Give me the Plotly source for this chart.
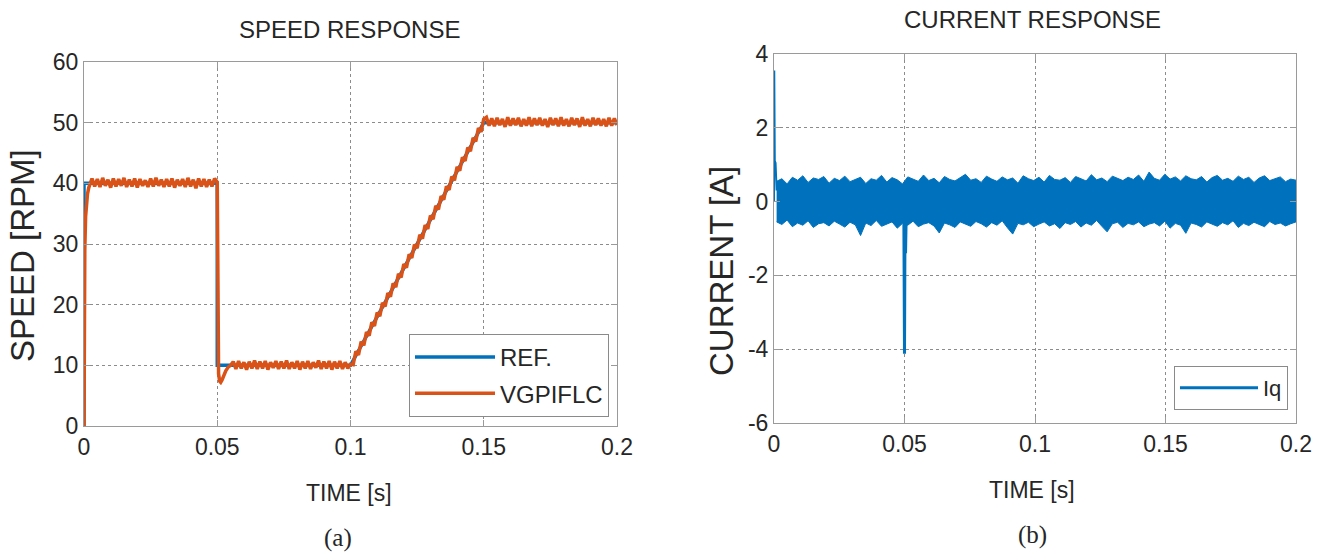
import numpy as np
import plotly.graph_objects as go

# ------------------------------------------------------------------ data
time_ticks = [0, 0.05, 0.1, 0.15, 0.2]
time_tick_text = ["0", "0.05", "0.1", "0.15", "0.2"]
speed_ticks = [0, 10, 20, 30, 40, 50, 60]
current_ticks = [-6, -4, -2, 0, 2, 4]
current_tick_text = ["-6", "-4", "-2", "0", "2", "4"]

# speed reference [RPM]
ref_t = [0, 0, 0.05, 0.05, 0.10, 0.15, 0.20]
ref_speed = [0, 40, 40, 10, 10, 50, 50]

# VGPIFLC speed response [RPM]
vg_start_t = [0, 0.0001, 0.0003, 0.0006, 0.0009, 0.0013, 0.0018, 0.0025]
vg_start = [0, 27.5, 29.0, 34.5, 37.0, 38.2, 39.3, 40.1]

vg_hold40 = [40.8, 39.5, 40.7, 39.4, 40.9, 39.6, 40.6, 39.3, 40.8, 39.5,
             40.7, 39.6, 40.9, 39.4, 40.6, 39.5, 40.8, 39.3, 40.7, 39.6,
             40.5, 39.4, 40.8, 39.5, 40.9, 39.6, 40.6, 39.4, 40.7, 39.5,
             40.8, 39.3, 40.6, 39.6, 40.7, 39.4, 40.9, 39.5, 40.6, 39.2,
             40.8, 39.5, 40.7, 39.4, 40.6, 39.5, 40.8]            # 0.003 .. 0.049

vg_drop_t = [0.0500, 0.0502, 0.0505, 0.0509, 0.0513, 0.0518, 0.0524, 0.0532, 0.0541, 0.0550]
vg_drop = [40.2, 21.0, 8.6, 7.4, 7.2, 7.6, 8.3, 9.1, 9.7, 10.0]

vg_hold10 = [10.6, 9.4, 10.7, 9.5, 10.5, 9.3, 10.6, 9.5, 10.8, 9.4,
             10.6, 9.5, 10.7, 9.3, 10.5, 9.6, 10.7, 9.4, 10.6, 9.5,
             10.8, 9.4, 10.5, 9.5, 10.7, 9.3, 10.6, 9.5, 10.7, 9.4,
             10.5, 9.6, 10.8, 9.4, 10.6, 9.5, 10.7, 9.3, 10.6, 9.5,
             10.7, 9.4, 10.5, 9.5]                                # 0.056 .. 0.099

vg_ramp = [10.2, 10.1, 12.3, 11.7, 13.9, 13.3, 15.5, 14.9, 17.1, 16.5,
           18.7, 18.1, 20.3, 19.7, 21.9, 21.3, 23.5, 22.9, 25.1, 24.5,
           26.7, 26.1, 28.3, 27.7, 29.9, 29.3, 31.5, 30.9, 33.1, 32.5,
           34.7, 34.1, 36.3, 35.7, 37.9, 37.3, 39.5, 38.9, 41.1, 40.5,
           42.7, 42.1, 44.3, 43.7, 45.9, 45.3, 47.5, 46.9, 49.1, 48.5,
           50.6]                                                  # 0.100 .. 0.150

vg_hold50 = [50.9, 49.5, 50.7, 49.4, 50.8, 49.6, 50.6, 49.3, 50.9, 49.5,
             50.7, 49.6, 50.8, 49.4, 50.6, 49.5, 50.9, 49.4, 50.7, 49.6,
             50.8, 49.5, 50.6, 49.3, 50.8, 49.6, 50.7, 49.4, 50.9, 49.5,
             50.6, 49.4, 50.8, 49.6, 50.7, 49.3, 50.9, 49.5, 50.6, 49.4,
             50.8, 49.6, 50.7, 49.5, 50.6, 49.4, 50.8, 49.5, 50.7, 49.6]  # 0.151 .. 0.200

# Iq current [A]: upper / lower envelope of the noise band (0.001 .. 0.2)
iq_upper = [0.55, 0.62, 0.48, 0.66, 0.58, 0.70, 0.52, 0.64, 0.60, 0.68,
            0.50, 0.63, 0.57, 0.69, 0.54, 0.61, 0.66, 0.49, 0.62, 0.58,
            0.71, 0.53, 0.65, 0.59, 0.48, 0.67, 0.60, 0.55, 0.72, 0.57,
            0.63, 0.51, 0.68, 0.60, 0.56, 0.66, 0.74, 0.58, 0.62, 0.52,
            0.69, 0.61, 0.55, 0.67, 0.59, 0.64, 0.50, 0.70, 0.62, 0.57,
            0.66, 0.53, 0.71, 0.60, 0.58, 0.65, 0.52, 0.68, 0.61, 0.56,
            0.73, 0.59, 0.64, 0.54, 0.69, 0.62, 0.57, 0.66, 0.60, 0.72,
            0.55, 0.80, 0.63, 0.58, 0.74, 0.61, 0.67, 0.56, 0.70, 0.62,
            0.59, 0.68, 0.53, 0.65, 0.71, 0.58, 0.63, 0.55, 0.69, 0.60,
            0.66, 0.52, 0.64, 0.70, 0.57, 0.62, 0.67, 0.54, 0.61, 0.58]
iq_lower = [-0.55, -0.62, -0.50, -0.68, -0.58, -0.64, -0.52, -0.70, -0.60, -0.57,
            -0.66, -0.53, -0.61, -0.69, -0.56, -0.63, -0.92, -0.58, -0.65, -0.51,
            -0.67, -0.60, -0.55, -0.72, -0.59, -0.64, -0.53, -0.68, -0.61, -0.57,
            -0.66, -0.85, -0.58, -0.63, -0.70, -0.55, -0.62, -0.67, -0.54, -0.60,
            -0.69, -0.57, -0.64, -0.52, -0.71, -0.88, -0.59, -0.63, -0.56, -0.68,
            -0.61, -0.55, -0.66, -0.60, -0.73, -0.57, -0.62, -0.54, -0.69, -0.58,
            -0.64, -0.51, -0.67, -0.82, -0.60, -0.56, -0.70, -0.59, -0.63, -0.55,
            -0.68, -0.61, -0.57, -0.66, -0.53, -0.72, -0.59, -0.64, -0.86, -0.58,
            -0.62, -0.69, -0.55, -0.60, -0.67, -0.57, -0.63, -0.52, -0.70, -0.59,
            -0.65, -0.56, -0.61, -0.68, -0.54, -0.62, -0.58, -0.66, -0.60, -0.55]

# Iq transients (start-up spike and step spike)
iq_start_t = [0, 0.0001, 0.0003, 0.0006, 0.0010]
iq_start = [0.0, 3.55, 1.10, 1.05, 0.30]
iq_step_t = [0.0497, 0.0500, 0.0502, 0.0504, 0.0507]
iq_step = [0.30, -4.12, -0.50, -1.40, -0.20]

# ------------------------------------------------------------------ build series
hold40_t = np.linspace(0.003, 0.049, len(vg_hold40))
hold10_t = np.linspace(0.056, 0.099, len(vg_hold10))
ramp_t = np.linspace(0.100, 0.150, len(vg_ramp))
hold50_t = np.linspace(0.151, 0.200, len(vg_hold50))
vg_t = np.concatenate([vg_start_t, hold40_t, vg_drop_t, hold10_t, ramp_t, hold50_t])
vg_speed = np.concatenate([vg_start, vg_hold40, vg_drop, vg_hold10, vg_ramp, vg_hold50])

env_t = np.linspace(0.001, 0.2, len(iq_upper))

BLUE = "#0072BD"
ORANGE = "#D95319"
W, H = 1334, 554


def px(x):
    return x / W


def py(y):
    return 1 - y / H


fig = go.Figure()

fig.add_trace(go.Scatter(x=ref_t, y=ref_speed, mode="lines", name="REF.",
                         line=dict(color=BLUE, width=3.5), xaxis="x", yaxis="y",
                         legend="legend", legendgroup="a"))
fig.add_trace(go.Scatter(x=vg_t, y=vg_speed, mode="lines", name="VGPIFLC",
                         line=dict(color=ORANGE, width=3.5), xaxis="x", yaxis="y",
                         legend="legend", legendgroup="b"))

fig.add_trace(go.Scatter(x=env_t, y=iq_upper, mode="lines", showlegend=False,
                         line=dict(color=BLUE, width=1), xaxis="x2", yaxis="y2"))
fig.add_trace(go.Scatter(x=env_t, y=iq_lower, mode="lines", showlegend=False,
                         line=dict(color=BLUE, width=1), fill="tonexty",
                         fillcolor=BLUE, xaxis="x2", yaxis="y2"))
fig.add_trace(go.Scatter(x=iq_start_t, y=iq_start, mode="lines", showlegend=False,
                         line=dict(color=BLUE, width=2), xaxis="x2", yaxis="y2"))
fig.add_trace(go.Scatter(x=iq_step_t, y=iq_step, mode="lines", name="Iq",
                         line=dict(color=BLUE, width=3), xaxis="x2", yaxis="y2",
                         legend="legend2"))

FONT = "Liberation Sans, Arial, sans-serif"
TICKFONT = dict(family=FONT, size=23, color="#262626")
FRAME = "#9a9a9a"
GRID = "#8c8c8c"

axis_common = dict(showline=True, linecolor=FRAME, linewidth=1, mirror="ticks",
                   ticks="inside", ticklen=6, tickcolor=FRAME, tickwidth=1,
                   showgrid=True, gridcolor=GRID, griddash="dot", gridwidth=1,
                   zeroline=False, tickfont=TICKFONT, fixedrange=True,
                   automargin=False)

fig.update_layout(
    width=W, height=H, margin=dict(l=0, r=0, t=0, b=0, autoexpand=False),
    paper_bgcolor="white", plot_bgcolor="white",
    xaxis=dict(domain=[px(84), px(617)], range=[0, 0.2], tickvals=time_ticks,
               ticktext=time_tick_text, anchor="y", **axis_common),
    yaxis=dict(domain=[py(426), py(62)], range=[0, 60], tickvals=speed_ticks,
               anchor="x", **axis_common),
    xaxis2=dict(domain=[px(774), px(1296)], range=[0, 0.2], tickvals=time_ticks,
                ticktext=time_tick_text, anchor="y2", **axis_common),
    yaxis2=dict(domain=[py(423), py(54)], range=[-6, 4], tickvals=current_ticks,
                ticktext=current_tick_text, anchor="x2", **axis_common),
    legend=dict(x=px(609), xanchor="right", y=py(417), yanchor="bottom",
                bordercolor="#8a8a8a", borderwidth=1, bgcolor="white",
                font=dict(family=FONT, size=24, color="#262626"),
                itemwidth=80, tracegroupgap=2),
    legend2=dict(x=px(1288), xanchor="right", y=py(410), yanchor="bottom",
                 bordercolor="#8a8a8a", borderwidth=1, bgcolor="white",
                 font=dict(family=FONT, size=22, color="#262626"),
                 itemwidth=78),
    showlegend=True,
)

ann_font = dict(family=FONT, size=24, color="#262626")
label_font = dict(family=FONT, size=23, color="#262626")
ylabel_font = dict(family=FONT, size=33, color="#262626")
cap_font = dict(family="Liberation Serif, Times New Roman, serif", size=25, color="#262626")

annotations = [
    dict(text="SPEED RESPONSE", x=px(349), y=py(30), font=ann_font),
    dict(text="CURRENT RESPONSE", x=px(1032), y=py(20), font=ann_font),
    dict(text="TIME [s]", x=px(349), y=py(493), font=label_font),
    dict(text="TIME [s]", x=px(1032), y=py(490), font=label_font),
    dict(text="SPEED [RPM]", x=px(22), y=py(256), font=ylabel_font, textangle=-90),
    dict(text="CURRENT [A]", x=px(721), y=py(271), font=ylabel_font, textangle=-90),
    dict(text="(a)", x=px(338), y=py(538), font=cap_font),
    dict(text="(b)", x=px(1032), y=py(535), font=cap_font),
]
for a in annotations:
    a.update(xref="paper", yref="paper", xanchor="center", yanchor="middle",
             showarrow=False)
fig.update_layout(annotations=annotations)

fig.write_html("out.html")
